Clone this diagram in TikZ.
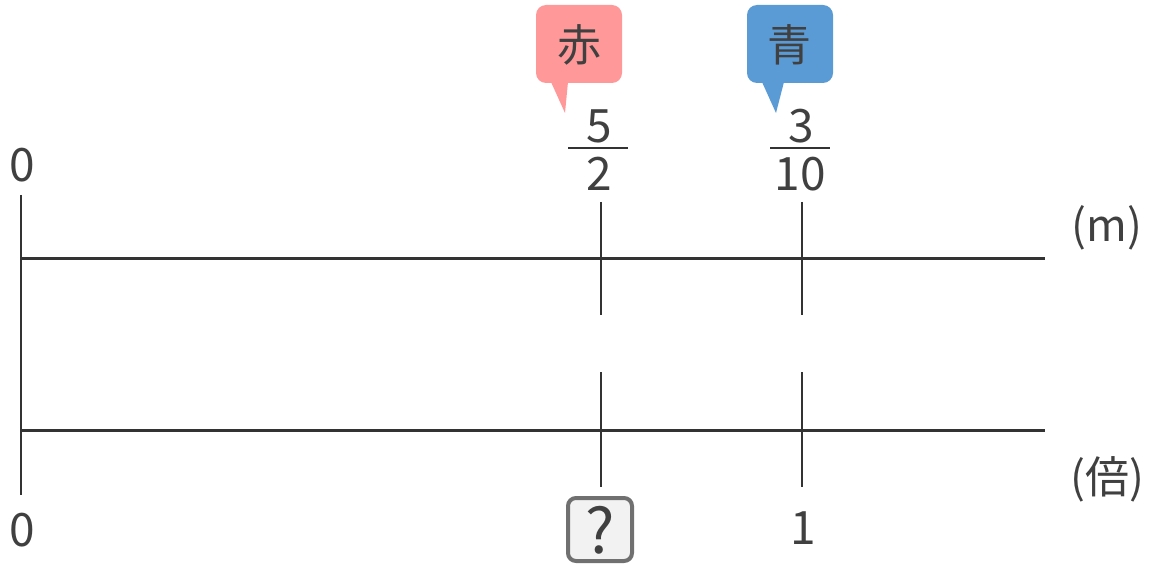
\documentclass[tikz,border=0pt]{standalone}
\usepackage{fontspec}
\setmainfont{Noto Sans CJK JP}
\definecolor{txt}{HTML}{404040}
\definecolor{ln}{HTML}{333333}
\definecolor{akaC}{HTML}{FF9999}
\definecolor{aoC}{HTML}{5B9BD5}
\definecolor{qfill}{HTML}{F2F2F2}
\definecolor{qline}{HTML}{707070}
\tikzset{
  axis/.style={draw=ln, line width=3pt},
  tick/.style={draw=ln, line width=1.6pt},
  lbl/.style={text=txt, font=\fontsize{44}{46}\selectfont, inner sep=0pt},
  numlbl/.style={text=txt, font=\fontsize{46}{48}\selectfont, inner sep=0pt},
  fracbar/.style={draw=ln, line width=1.4pt},
  bubble/.style={rounded corners=10pt},
}
\begin{document}
\begin{tikzpicture}[x=1pt,y=-1pt]
\useasboundingbox (0,0) rectangle (1160,567);
% axes
\coordinate (tL) at (21,258); \coordinate (tR) at (1045,258);
\coordinate (bL) at (21,430); \coordinate (bR) at (1045,430);
\coordinate (vT) at (21,195); \coordinate (vB) at (21,495);
\draw[axis] (tL) -- (tR);
\draw[axis] (bL) -- (bR);
\draw[tick, line width=2pt] (vT) -- (vB);
% ticks
\coordinate (a1) at (601,202); \coordinate (a2) at (601,315);
\coordinate (a3) at (601,372); \coordinate (a4) at (601,487);
\coordinate (b1) at (802,202); \coordinate (b2) at (802,315);
\coordinate (b3) at (802,372); \coordinate (b4) at (802,487);
\draw[tick] (a1) -- (a2); \draw[tick] (a3) -- (a4);
\draw[tick] (b1) -- (b2); \draw[tick] (b3) -- (b4);
% zero labels
\node[numlbl] (z1) at (22,165) {0};
\node[numlbl] (z2) at (22,530) {0};
% units
\node[lbl] (um) at (1107,228) {(m)};
\node[lbl] (ub) at (1107,479) {(倍)};
% fraction 5/2
\node[numlbl] (n1) at (599,126) {5};
\coordinate (f1l) at (568,148); \coordinate (f1r) at (628,148);
\draw[fracbar] (f1l) -- (f1r);
\node[numlbl] (d1) at (599,174) {2};
% fraction 3/10
\node[numlbl] (n2) at (801,126) {3};
\coordinate (f2l) at (770,148); \coordinate (f2r) at (830,148);
\draw[fracbar] (f2l) -- (f2r);
\node[numlbl] (d2) at (800,174) {10};
% red callout
\fill[akaC, bubble] (536,5) rectangle (622,83);
\fill[akaC] (551,82) -- (568,82) -- (565,113) -- cycle;
\node[lbl] (aka) at (579,45) {赤};
% blue callout
\fill[aoC, bubble] (747,5) rectangle (833,83);
\fill[aoC] (762,82) -- (784,82) -- (776,113) -- cycle;
\node[lbl] (ao) at (789,45) {青};
% question box
\draw[draw=qline, fill=qfill, line width=4pt, rounded corners=8pt] (568,498) rectangle (632,561);
\node[text=txt, font=\fontsize{62}{64}\selectfont, inner sep=0pt] (q) at (600,530) {?};
% one
\node[numlbl] (one) at (803,528) {1};
\end{tikzpicture}
\end{document}
